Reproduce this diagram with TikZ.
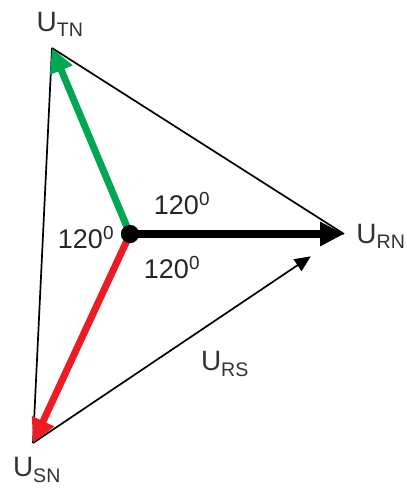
\documentclass[tikz,border=0pt]{standalone}
\usepackage{fontspec}
\setmainfont{Liberation Sans}
\usetikzlibrary{arrows.meta}
\definecolor{phaseT}{RGB}{0,166,81}
\definecolor{phaseS}{RGB}{237,28,36}
\tikzset{
  side/.style={line width=1.7pt, draw=black},
  phasor/.style={line width=7pt, -{Triangle[length=24pt,width=23pt]}},
  neutral/.style={circle, fill=black, minimum size=18pt, inner sep=0pt},
  volt/.style={font=\fontsize{28}{30}\selectfont, text=black!80, inner sep=0pt},
  angletext/.style={font=\fontsize{27}{30}\selectfont, text=black!85, inner sep=0pt}
}

\begin{document}
\begin{tikzpicture}[x=1pt, y=-1pt]
  \useasboundingbox (0,0) rectangle (407,491);

  % Corners of the triangle
  \coordinate (T) at (52,48);
  \coordinate (R) at (344,234);
  \coordinate (S) at (33,443);
  \node[neutral] (N) at (130,234) {};

  % Line voltages
  \draw[side] (T) -- (R);
  \draw[side] (T) -- (S);
  \draw[side, -{Triangle[length=16pt,width=14pt]}, shorten >=40pt] (S) -- (R);

  % Phase voltages
  \draw[phasor, draw=phaseT, fill=phaseT] (N.center) -- (T);
  \draw[phasor, draw=phaseS, fill=phaseS] (N.center) -- (S);
  \draw[phasor, draw=black, line width=8pt] (N.center) -- (R);
  \node[neutral] at (N) {};

  \node[volt] (uT) at (60,24) {U\textsubscript{TN}};
  \node[volt] (uR) at (381,236) {U\textsubscript{RN}};
  \node[volt] (uS) at (37,470) {U\textsubscript{SN}};
  \node[volt] (uRS) at (225,364) {U\textsubscript{RS}};

  \node[angletext] (aTR) at (182,204) {120\textsuperscript{0}};
  \node[angletext] (aTS) at (86,238) {120\textsuperscript{0}};
  \node[angletext] (aRS) at (172,268) {120\textsuperscript{0}};
\end{tikzpicture}
\end{document}
